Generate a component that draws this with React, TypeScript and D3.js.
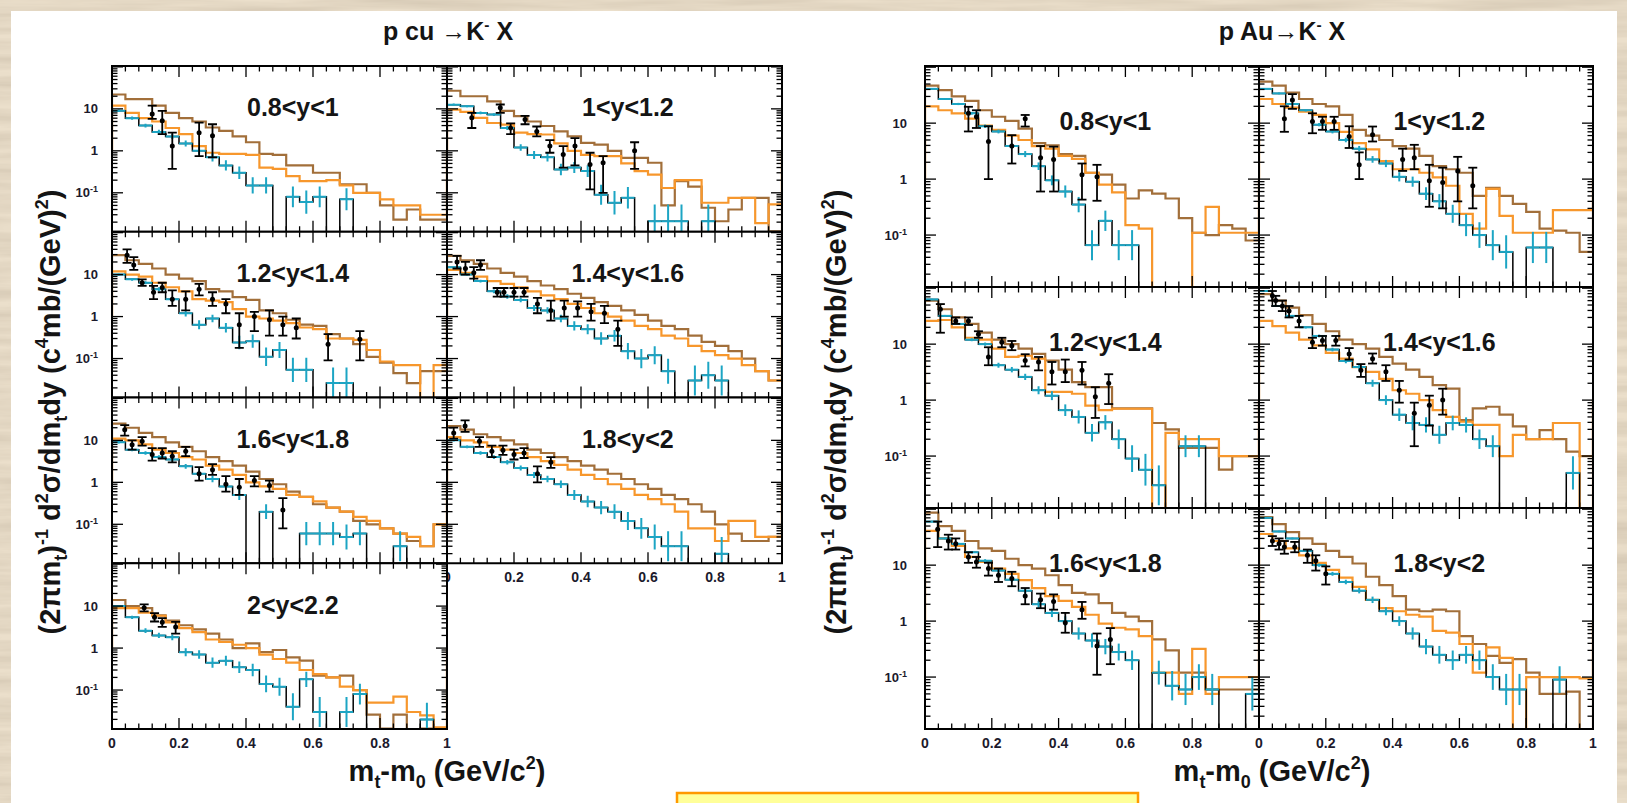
import { curveStepAfter, line, scaleLinear, scaleLog } from 'd3';

const width = 1627;
const height = 803;
const yDomain: [number, number] = [0.0118, 105];
const binWidth = 0.04;
const font = '"Liberation Sans", Arial, Helvetica, sans-serif';
const brownColor = '#a26f3a';
const orangeColor = '#f7972c';
const cyanColor = '#1ca5c4';

// ---- p Cu -> K- X ----
const cuLabels = ['0.8<y<1', '1<y<1.2', '1.2<y<1.4', '1.4<y<1.6', '1.6<y<1.8', '1.8<y<2', '2<y<2.2'];

const cu1Brown = [22, 17, 17, 12, 8, 6, 5, 3.6, 3, 2.2, 1.6, 0.85, 0.8, 0.45, 0.45, 0.3, 0.3, 0.16, 0.16, 0.1, 0.05, 0.023, 0.04, 0.023, 0.023];
const cu1Orange = [12, 8, 6, 5, 3.5, 2.5, 1.3, 0.9, 0.85, 0.85, 0.8, 0.4, 0.37, 0.25, 0.19, 0.19, 0.2, 0.15, 0.1, 0.1, 0.07, 0.05, 0.05, 0.03, 0.03];
const cu1Cyan = [9, 6, 4, 2.8, 2.2, 1.5, 1.0, 0.7, 0.45, 0.3, 0.15, 0.15, 0, 0.08, 0.06, 0.08, 0, 0.07, 0, 0, 0, 0, 0, 0, 0];
const cu1Pts = [[0.12, 7.5, 5.8, 12], [0.15, 5.2, 2.5, 9], [0.18, 1.3, 0.37, 2.7], [0.26, 2.7, 0.75, 4.7], [0.3, 2.3, 0.7, 4.3]];

const cu2Brown = [27, 20, 20, 15, 9, 6.7, 5, 3.9, 2.9, 2.2, 1.55, 1.4, 1.0, 0.68, 0.68, 0.52, 0.05, 0.19, 0.14, 0.044, 0.021, 0.04, 0.076, 0.076, 0.012];
const cu2Orange = [9.6, 8.5, 6.1, 4.6, 4.2, 2.7, 2.5, 2.45, 1.5, 1.0, 0.8, 0.75, 0.75, 0.5, 0.33, 0.27, 0.13, 0.2, 0.2, 0.058, 0.058, 0.076, 0.076, 0.019, 0.053];
const cu2Cyan = [12.6, 11.6, 8, 7.3, 3.5, 1.2, 0.8, 0.7, 0.36, 0.4, 0.33, 0.09, 0.058, 0.076, 0, 0.021, 0.021, 0.021, 0, 0.021, 0, 0, 0, 0, 0];
const cu2Pts = [[0.074, 6.1, 3.5, 8], [0.159, 10.6, 8, 12.7], [0.19, 3.5, 2.5, 4.5], [0.233, 5.6, 4.3, 6.8], [0.268, 2.9, 2.2, 3.8], [0.307, 1.3, 0.9, 1.8], [0.347, 0.82, 0.4, 1.3], [0.382, 1.3, 0.45, 2.0], [0.427, 0.47, 0.12, 0.9], [0.466, 0.52, 0.1, 0.75], [0.56, 1.0, 0.37, 1.6]];

const cu3Brown = [29, 22, 18, 14, 10, 8, 7, 4.5, 4, 2.9, 2.5, 1.4, 1.2, 0.84, 0.64, 0.6, 0.38, 0.3, 0.22, 0.11, 0.08, 0.045, 0.026, 0.05, 0.05];
const cu3Orange = [12, 10, 9, 6.4, 5, 4, 2.6, 2.4, 2.2, 1.5, 1.0, 0.9, 0.8, 0.7, 0.55, 0.5, 0.3, 0.3, 0.28, 0.16, 0.085, 0.07, 0.07, 0, 0.07];
const cu3Cyan = [10, 7.7, 6.4, 4.5, 2.6, 1.2, 0.64, 0.9, 0.54, 0.24, 0.26, 0.11, 0.16, 0.054, 0.054, 0, 0.026, 0.026, 0, 0, 0, 0, 0, 0, 0];
const cu3Pts = [[0.045, 29, 19, 40], [0.065, 17, 13, 26], [0.09, 6.4, 5.4, 7.7], [0.124, 3.8, 2.6, 5.4], [0.15, 4.9, 3.8, 6.4], [0.18, 2.6, 1.8, 4.2], [0.22, 2.6, 1.4, 4.0], [0.26, 4.5, 3.2, 6.0], [0.3, 2.6, 1.8, 3.8], [0.34, 2.0, 1.2, 2.6], [0.38, 0.64, 0.18, 1.2], [0.425, 1.0, 0.45, 1.3], [0.47, 0.84, 0.35, 1.4], [0.51, 0.64, 0.35, 1.0], [0.55, 0.54, 0.3, 0.9], [0.645, 0.22, 0.09, 0.38], [0.74, 0.29, 0.09, 0.45]];

const cu4Brown = [28, 22, 18, 14, 11, 9, 7, 5.5, 4.5, 3.5, 2.8, 2.2, 1.8, 1.4, 1.1, 0.8, 0.6, 0.5, 0.35, 0.25, 0.2, 0.15, 0.1, 0.05, 0.03];
const cu4Orange = [13, 11, 9, 7, 6, 5, 4, 3.2, 2.6, 2.0, 1.6, 1.2, 1.0, 0.8, 0.6, 0.5, 0.35, 0.3, 0.2, 0.15, 0.12, 0.1, 0.07, 0.05, 0.03];
const cu4Cyan = [15, 10, 7, 4, 3, 2.5, 1.6, 1.4, 0.9, 0.6, 0.5, 0.3, 0.35, 0.15, 0.1, 0.12, 0.05, 0, 0.03, 0.04, 0.03, 0, 0, 0, 0];
const cu4Pts = [[0.03, 20, 14, 28], [0.055, 14, 10, 20], [0.08, 11, 8, 15], [0.1, 17, 13, 22], [0.15, 3.8, 3.0, 4.8], [0.17, 3.8, 3.0, 4.8], [0.2, 3.8, 3.0, 4.8], [0.23, 3.8, 3.0, 4.8], [0.27, 2.0, 1.2, 2.8], [0.31, 1.4, 0.8, 2.4], [0.35, 1.6, 1.0, 2.4], [0.39, 1.6, 1.0, 2.3], [0.43, 1.3, 0.8, 2.0], [0.47, 1.2, 0.7, 1.8], [0.51, 0.5, 0.2, 0.8]];

const cu5Brown = [25, 20, 15, 12, 9, 7, 5.5, 4, 3.2, 2.5, 1.8, 1.2, 0.9, 0.6, 0.45, 0.3, 0.25, 0.2, 0.12, 0.1, 0.08, 0.06, 0.04, 0.03, 0.1];
const cu5Orange = [11, 10, 8, 6, 5, 4, 3.5, 2.5, 2.0, 1.5, 1.0, 0.8, 0.7, 0.5, 0.45, 0.35, 0.25, 0.2, 0.15, 0.12, 0.08, 0.06, 0.05, 0.03, 0.1];
const cu5Cyan = [9, 6, 5, 4, 3.5, 2.4, 1.6, 1.2, 0.8, 0.5, 0, 0.2, 0, 0, 0.06, 0.06, 0.06, 0.05, 0.06, 0, 0, 0.03, 0, 0, 0];
const cu5Pts = [[0.038, 17.8, 13, 23], [0.06, 7.9, 6, 10], [0.09, 9.5, 7.5, 12], [0.12, 4.6, 3.3, 6.5], [0.15, 5, 3.7, 6.5], [0.18, 4.2, 3, 5.5], [0.22, 5.5, 4.2, 7], [0.26, 1.6, 1.1, 2.3], [0.3, 2.0, 1.5, 2.7], [0.34, 0.9, 0.6, 1.4], [0.38, 0.76, 0.5, 1.2], [0.425, 1.1, 0.8, 1.4], [0.47, 0.84, 0.6, 1.1], [0.51, 0.22, 0.08, 0.42]];

const cu6Brown = [22, 18, 14, 12, 10, 8, 6, 5, 4, 3.2, 2.5, 2, 1.6, 1.2, 0.9, 0.7, 0.5, 0.4, 0.3, 0.2, 0.1, 0.06, 0.04, 0.04, 0.05];
const cu6Orange = [12, 10, 9, 7, 6, 5, 4, 3.2, 2.6, 2.0, 1.5, 1.2, 0.9, 0.7, 0.5, 0.4, 0.3, 0.2, 0.08, 0.08, 0.04, 0.12, 0.12, 0.05, 0.05];
const cu6Cyan = [10, 7, 5, 4, 3, 2.2, 1.5, 1.2, 0.9, 0.5, 0.35, 0.25, 0.2, 0.12, 0.08, 0.05, 0.03, 0.03, 0, 0, 0.02, 0, 0, 0, 0];
const cu6Pts = [[0.02, 15, 11, 20], [0.054, 22, 16, 30], [0.097, 9.5, 7, 12], [0.134, 5.5, 4, 7.5], [0.167, 5.8, 4.5, 7.5], [0.2, 4.6, 3.5, 6], [0.23, 5.0, 3.8, 6.5], [0.27, 1.6, 1.0, 2.4], [0.31, 3.0, 2.2, 4.0]];

const cu7Brown = [14, 10, 9, 6, 4.5, 3.5, 2.8, 2.2, 1.6, 1.0, 1.3, 0.8, 0.9, 0.6, 0.5, 0.22, 0.2, 0.22, 0.1, 0.026, 0.012, 0.026, 0, 0.012, 0.012];
const cu7Orange = [9, 9, 7, 5.9, 4.1, 3, 2.4, 1.6, 1.4, 1.2, 1.0, 0.7, 0.55, 0.45, 0.3, 0.24, 0.2, 0.12, 0.1, 0.05, 0.05, 0.07, 0.03, 0.025, 0.013];
const cu7Cyan = [10, 5.4, 2.6, 2.0, 1.8, 0.8, 0.7, 0.45, 0.5, 0.35, 0.3, 0.14, 0.12, 0.04, 0.18, 0.03, 0, 0.03, 0.08, 0, 0, 0, 0, 0.02, 0];
const cu7Pts = [[0.096, 9.1, 7.5, 11], [0.127, 5.4, 4.3, 6.8], [0.15, 4.1, 3.2, 5.2], [0.19, 3.2, 2.2, 4.2]];

// ---- p Au -> K- X ----
const auLabels = ['0.8<y<1', '1<y<1.2', '1.2<y<1.4', '1.4<y<1.6', '1.6<y<1.8', '1.8<y<2'];

const au1Brown = [47, 39, 30, 25, 17, 13, 11, 8, 4.4, 4.0, 2.8, 2.6, 1.3, 1.2, 0.8, 0.45, 0.63, 0.55, 0.45, 0.2, 0.11, 0.1, 0.15, 0.13, 0.08];
const au1Orange = [20, 17, 15, 12, 9, 7.6, 6, 5, 3.9, 3.5, 2.6, 2.3, 1.3, 0.8, 0.58, 0.15, 0.13, 0, 0, 0, 0.11, 0.32, 0.11, 0.11, 0.11];
const au1Cyan = [41, 27, 22, 15, 8.8, 7.1, 3.9, 2.8, 1.7, 0.95, 0.6, 0.35, 0.066, 0.18, 0.066, 0.066, 0, 0, 0, 0, 0, 0, 0, 0, 0];
const au1Pts = [[0.13, 15, 7.1, 19.6], [0.154, 13, 8.2, 17], [0.19, 4.7, 1.0, 8.8], [0.26, 3.9, 1.9, 6.1], [0.3, 12, 8.7, 14], [0.346, 2.4, 0.6, 3.9], [0.385, 2.25, 0.6, 3.8], [0.47, 1.2, 0.43, 1.9], [0.515, 1.1, 0.41, 1.8]];

const au2Brown = [55, 47, 35, 27, 22, 20, 14, 7.6, 6, 5, 3.9, 3.5, 2.6, 1.7, 1.5, 1.3, 0.5, 0.7, 0.5, 0.36, 0.26, 0.13, 0.12, 0.11, 0.05];
const au2Orange = [27, 22, 19, 16, 14, 10, 7, 4.4, 3.4, 2.1, 1.5, 1.5, 1.3, 1.07, 0.76, 0.24, 0.13, 0.67, 0.22, 0.11, 0.11, 0.11, 0.28, 0.28, 0.28];
const au2Cyan = [41, 34, 22, 17, 9.4, 7.1, 5, 3.5, 2.25, 1.9, 1.1, 0.9, 0.55, 0.4, 0.24, 0.15, 0.1, 0.066, 0.05, 0, 0.06, 0.06, 0, 0, 0];
const au2Pts = [[0.076, 12, 7, 20], [0.1, 26, 18, 33], [0.16, 10.7, 6.6, 15], [0.19, 10.7, 7.6, 13], [0.225, 10.7, 7.6, 13], [0.27, 5.8, 3.6, 8.8], [0.3, 1.8, 1.0, 3.0], [0.34, 6.2, 4.7, 8.7], [0.43, 2.25, 1.4, 3.5], [0.465, 2.4, 1.5, 4.1], [0.51, 0.93, 0.32, 1.8], [0.55, 0.87, 0.3, 1.6], [0.595, 1.4, 0.4, 2.5], [0.64, 0.76, 0.3, 1.6]];

const au3Brown = [60, 42, 30, 23, 16, 12, 10, 8.3, 6.7, 5.1, 3.5, 2.1, 1.7, 1.7, 0.71, 0.71, 0.71, 0.39, 0.3, 0.14, 0.14, 0.14, 0.057, 0.1, 0.1];
const au3Orange = [26, 27, 20, 13, 12, 8.3, 5.9, 6.2, 5.5, 1.4, 1.4, 1.3, 0.8, 0.66, 0.7, 0.7, 0.7, 0, 0.26, 0.2, 0.2, 0.2, 0.1, 0.1, 0.1];
const au3Cyan = [63, 32, 23, 12, 10, 4.2, 3.5, 2.6, 1.5, 1.2, 0.66, 0.5, 0.26, 0.4, 0.2, 0.09, 0.057, 0.03, 0, 0.15, 0.15, 0, 0, 0, 0];
const au3Pts = [[0.046, 42, 16, 52], [0.092, 26, 23, 30], [0.13, 26, 22, 30], [0.16, 15, 13, 17], [0.19, 5.9, 4.2, 8.8], [0.23, 10.8, 8.8, 13], [0.26, 9.4, 7.8, 11.4], [0.3, 5.1, 4.0, 6.6], [0.34, 4.8, 3.4, 5.9], [0.38, 3.2, 1.9, 4.8], [0.42, 3.2, 2.1, 5.3], [0.47, 3.4, 1.9, 4.8], [0.51, 1.15, 0.48, 1.7], [0.55, 2.0, 0.85, 2.9]];

const au4Brown = [78, 60, 45, 33, 23, 17, 12, 10, 8.3, 5.9, 4.5, 3.5, 2.6, 1.85, 1.6, 0.44, 0.71, 0.76, 0.55, 0.34, 0.2, 0.29, 0.2, 0.12, 0.1];
const au4Orange = [26, 21, 16, 12, 9.5, 7, 5.5, 3.9, 3.2, 2.4, 1.5, 1.3, 1.0, 0.66, 0.5, 0.41, 0.36, 0.36, 0.1, 0.24, 0.2, 0.2, 0.39, 0.39, 0];
const au4Cyan = [89, 48, 32, 20, 14, 8, 5, 3.9, 2.0, 1.0, 0.55, 0.39, 0.36, 0.24, 0.39, 0.36, 0.2, 0.15, 0, 0, 0, 0, 0, 0.05, 0];
const au4Pts = [[0.04, 73, 60, 89], [0.05, 60, 48, 73], [0.07, 48, 39, 60], [0.09, 39, 30, 48], [0.12, 26, 20, 32], [0.16, 10.8, 8.5, 13], [0.19, 11.6, 9.4, 14], [0.23, 11.6, 9.4, 14], [0.27, 6.7, 5.3, 8.5], [0.305, 3.4, 2.6, 4.4], [0.34, 5.5, 4.5, 6.8], [0.38, 3.2, 2.2, 4.2], [0.42, 1.5, 0.9, 2.2], [0.465, 0.58, 0.15, 0.9], [0.51, 0.81, 0.35, 1.2], [0.55, 1.0, 0.55, 1.6]];

const au5Brown = [87, 50, 41, 27, 20, 18, 13, 10, 8.7, 6.6, 4.4, 3.2, 3.0, 2.1, 1.4, 1.2, 1.0, 0.47, 0.3, 0.12, 0.12, 0.06, 0.06, 0.06, 0.06];
const au5Orange = [41, 30, 22, 14, 11.4, 8.7, 7, 5.4, 3.9, 2.8, 2.3, 1.8, 1.3, 0.9, 0.76, 0.71, 0.54, 0.12, 0.12, 0.05, 0.32, 0.05, 0.1, 0.1, 0.1];
const au5Cyan = [60, 30, 24, 17, 12, 8, 5.5, 3.5, 2.0, 1.4, 1.0, 0.6, 0.45, 0.35, 0.28, 0.2, 0, 0.12, 0.07, 0.06, 0.1, 0.06, 0, 0, 0.05];
const au5Pts = [[0.038, 44, 21, 60], [0.07, 27, 19, 35], [0.092, 24, 19, 30], [0.13, 14, 11, 17], [0.154, 11.4, 9, 14], [0.19, 8.7, 6.5, 11], [0.22, 6.6, 5, 8.7], [0.26, 5.8, 4.2, 7.6], [0.3, 2.8, 2.0, 3.9], [0.346, 2.4, 1.7, 3.1], [0.385, 2.25, 1.6, 3.0], [0.42, 0.93, 0.62, 1.4], [0.47, 1.6, 1.1, 2.2], [0.515, 0.36, 0.11, 0.6], [0.555, 0.47, 0.17, 0.75]];

const au6Brown = [72, 54, 39, 30, 24, 18, 14, 10.7, 6.2, 4.4, 2.8, 1.6, 1.5, 1.6, 1.5, 0.54, 0.39, 0.24, 0.18, 0.21, 0.12, 0.05, 0.05, 0.055, 0.01];
const au6Orange = [36, 27, 20, 15, 11, 8.2, 6, 4.1, 2.4, 1.7, 1.5, 1.3, 1.2, 0.67, 0.62, 0.39, 0.12, 0.34, 0.22, 0, 0.1, 0.1, 0.1, 0.1, 0.095];
const au6Cyan = [70, 40, 30, 18, 10, 7, 5, 3.5, 2.4, 1.5, 1.0, 0.6, 0.35, 0.25, 0.2, 0.25, 0.2, 0.1, 0.06, 0.06, 0, 0, 0.09, 0, 0];
const au6Pts = [[0.04, 27, 22, 33], [0.06, 24, 19, 30], [0.076, 21, 16, 27], [0.107, 21, 17, 26], [0.145, 15, 11, 19], [0.17, 12, 8, 15], [0.2, 7, 4.5, 9.5]];

const xTickLabels = [0, 0.2, 0.4, 0.6, 0.8, 1];
const yTickLabels = [10, 1, 0.1];

type Seg = [string, string];

const Rich = ({ segs, size }: { segs: Seg[]; size: number }) => {
  let cur = 0;
  return (
    <>
      {segs.map(([t, k], i) => {
        const target = k === 'sup' ? -0.42 * size : k === 'sub' ? 0.25 * size : 0;
        const dy = target - cur;
        cur = target;
        return (
          <tspan key={i} dy={dy} fontSize={k ? size * 0.62 : size}>
            {t}
          </tspan>
        );
      })}
    </>
  );
};

interface PanelProps {
  id: string;
  px: number;
  py: number;
  pw: number;
  ph: number;
  label: string;
  brown: number[];
  orange: number[];
  cyan: number[];
  pts: number[][];
  showY: boolean;
  xLabels: number[];
  yLabelGap: number;
}

const Panel = ({ id, px, py, pw, ph, label, brown, orange, cyan, pts, showY, xLabels, yLabelGap }: PanelProps) => {
  const x = scaleLinear().domain([0, 1]).range([px, px + pw]);
  const y = scaleLog().domain(yDomain).range([py + ph, py]);
  const yv = (v: number) => y(Math.max(v, 1e-4));

  const step = (vals: number[]) => {
    const p: [number, number][] = [[0, 1], ...vals.map((v, i) => [i * binWidth, v] as [number, number]), [1, vals[vals.length - 1]], [1, 1]];
    return (
      line<[number, number]>()
        .x(d => x(d[0]))
        .y(d => yv(d[1]))
        .curve(curveStepAfter)(p) || ''
    );
  };

  const xTicks = Array.from({ length: 26 }, (_, i) => i);
  const yTicks: { v: number; major: boolean }[] = [];
  for (let d = -2; d <= 2; d++) {
    for (let m = 1; m <= 9; m++) {
      const v = m * Math.pow(10, d);
      if (v >= yDomain[0] && v <= yDomain[1]) yTicks.push({ v, major: m === 1 });
    }
  }

  return (
    <g>
      <clipPath id={`clip-${id}`}>
        <rect x={px} y={py} width={pw} height={ph} />
      </clipPath>
      <rect x={px} y={py} width={pw} height={ph} fill="white" />
      <g clipPath={`url(#clip-${id})`} fill="none">
        <path d={step(brown)} stroke={brownColor} strokeWidth={2.2} />
        <path d={step(orange)} stroke={orangeColor} strokeWidth={2.2} />
        <path d={step(cyan)} stroke="black" strokeWidth={1.5} />
        {cyan.map((v, i) => {
          if (v <= 0) return null;
          const k = Math.min(1.5, 0.22 / Math.sqrt(v));
          const cx = x((i + 0.5) * binWidth);
          return (
            <g key={i} stroke={cyanColor} strokeWidth={2}>
              <line x1={x(i * binWidth)} x2={x((i + 1) * binWidth)} y1={yv(v)} y2={yv(v)} />
              <line x1={cx} x2={cx} y1={yv(v / (1 + k))} y2={yv(v * (1 + k))} />
            </g>
          );
        })}
        {pts.map((p, i) => (
          <g key={i} stroke="black" strokeWidth={1.8}>
            <line x1={x(p[0])} x2={x(p[0])} y1={y(p[2])} y2={y(p[3])} />
            <line x1={x(p[0]) - 4.5} x2={x(p[0]) + 4.5} y1={y(p[2])} y2={y(p[2])} />
            <line x1={x(p[0]) - 4.5} x2={x(p[0]) + 4.5} y1={y(p[3])} y2={y(p[3])} />
            <circle cx={x(p[0])} cy={y(p[1])} r={2.5} fill="black" stroke="none" />
          </g>
        ))}
      </g>
      <g stroke="black" strokeWidth={1.3}>
        {xTicks.map(i => {
          const len = i % 5 === 0 ? 11 : 5.5;
          const tx = x(i * binWidth);
          return (
            <g key={`x${i}`}>
              <line x1={tx} x2={tx} y1={py + ph} y2={py + ph - len} />
              <line x1={tx} x2={tx} y1={py} y2={py + len} />
            </g>
          );
        })}
        {yTicks.map(t => {
          const len = t.major ? 11 : 5.5;
          const ty = y(t.v);
          return (
            <g key={`y${t.v}`}>
              <line x1={px} x2={px + len} y1={ty} y2={ty} />
              <line x1={px + pw} x2={px + pw - len} y1={ty} y2={ty} />
            </g>
          );
        })}
      </g>
      <rect x={px} y={py} width={pw} height={ph} fill="none" stroke="black" strokeWidth={2} />
      <text
        x={px + pw * 0.54}
        y={py + ph * 0.25}
        dy="0.36em"
        textAnchor="middle"
        fontFamily={font}
        fontWeight="bold"
        fontSize={25}
        fill="#151515"
      >
        {label}
      </text>
      {showY &&
        yTickLabels.map(v => (
          <text
            key={v}
            x={px - yLabelGap}
            y={y(v)}
            dy="0.35em"
            textAnchor="end"
            fontFamily={font}
            fontWeight="bold"
            fontSize={13}
            fill="#1c1a2c"
          >
            {v === 0.1 ? (
              <>
                10<tspan dy={-5} fontSize={9}>-1</tspan>
              </>
            ) : (
              String(v)
            )}
          </text>
        ))}
      {xLabels.map(v => (
        <text
          key={v}
          x={x(v)}
          y={py + ph + 19}
          textAnchor="middle"
          fontFamily={font}
          fontWeight="bold"
          fontSize={14}
          fill="#1c1a2c"
        >
          {String(v)}
        </text>
      ))}
    </g>
  );
};

const cuSeries = [
  [cu1Brown, cu1Orange, cu1Cyan, cu1Pts],
  [cu2Brown, cu2Orange, cu2Cyan, cu2Pts],
  [cu3Brown, cu3Orange, cu3Cyan, cu3Pts],
  [cu4Brown, cu4Orange, cu4Cyan, cu4Pts],
  [cu5Brown, cu5Orange, cu5Cyan, cu5Pts],
  [cu6Brown, cu6Orange, cu6Cyan, cu6Pts],
  [cu7Brown, cu7Orange, cu7Cyan, cu7Pts],
];
const auSeries = [
  [au1Brown, au1Orange, au1Cyan, au1Pts],
  [au2Brown, au2Orange, au2Cyan, au2Pts],
  [au3Brown, au3Orange, au3Cyan, au3Pts],
  [au4Brown, au4Orange, au4Cyan, au4Pts],
  [au5Brown, au5Orange, au5Cyan, au5Pts],
  [au6Brown, au6Orange, au6Cyan, au6Pts],
];

const plotTop = 66;
const plotBottom = 729;
const cuLeft = 112;
const auLeft = 925;
const colW = 335;

const yTitle: Seg[] = [
  ['(2πm', ''], ['t', 'sub'], [')', ''], ['-1', 'sup'], [' d', ''], ['2', 'sup'], ['σ/dm', ''], ['t', 'sub'],
  ['dy (c', ''], ['4', 'sup'], ['mb/(GeV)', ''], ['2', 'sup'], [')', ''],
];
const xTitle: Seg[] = [['m', ''], ['t', 'sub'], ['-m', ''], ['0', 'sub'], [' (GeV/c', ''], ['2', 'sup'], [')', '']];

const App = () => {
  const cuRowH = (plotBottom - plotTop) / 4;
  const auRowH = (plotBottom - plotTop) / 3;
  return (
    <svg width={width} height={height} style={{ position: 'absolute', left: 0, top: 0 }}>
      <defs>
        <filter id="paper" x="0" y="0" width="100%" height="100%">
          <feTurbulence type="fractalNoise" baseFrequency="0.006 0.09" numOctaves={4} seed={5} />
          <feColorMatrix type="matrix" values="0 0 0 0 0.55  0 0 0 0 0.47  0 0 0 0 0.36  0 0 0 0.9 -0.25" />
        </filter>
      </defs>
      <rect width={width} height={height} fill="#ebdfcb" />
      <rect width={width} height={height} filter="url(#paper)" />
      <rect x={11} y={11} width={1606} height={792} fill="white" />

      {cuSeries.map((s, i) => {
        const row = Math.floor(i / 2);
        const col = i % 2;
        const xl = i === 6 || i === 5 ? xTickLabels : [];
        return (
          <Panel
            key={`cu${i}`}
            id={`cu${i}`}
            px={cuLeft + col * colW}
            py={plotTop + row * cuRowH}
            pw={colW}
            ph={cuRowH}
            label={cuLabels[i]}
            brown={s[0] as number[]}
            orange={s[1] as number[]}
            cyan={s[2] as number[]}
            pts={s[3] as number[][]}
            showY={col === 0}
            xLabels={xl}
            yLabelGap={14}
          />
        );
      })}
      {auSeries.map((s, i) => {
        const row = Math.floor(i / 2);
        const col = i % 2;
        const xl = i === 4 ? xTickLabels.slice(0, 5) : i === 5 ? xTickLabels : [];
        return (
          <Panel
            key={`au${i}`}
            id={`au${i}`}
            px={auLeft + col * 334}
            py={plotTop + row * auRowH}
            pw={334}
            ph={auRowH}
            label={auLabels[i]}
            brown={s[0] as number[]}
            orange={s[1] as number[]}
            cyan={s[2] as number[]}
            pts={s[3] as number[][]}
            showY={col === 0}
            xLabels={xl}
            yLabelGap={18}
          />
        );
      })}

      <g fontFamily={font} fill="#141414" fontWeight="bold">
        <text x={448} y={40} textAnchor="middle" fontSize={25}>
          <Rich segs={[['p cu →K', ''], ['-', 'sup'], [' X', '']]} size={25} />
        </text>
        <text x={1282} y={40} textAnchor="middle" fontSize={25}>
          <Rich segs={[['p Au→K', ''], ['-', 'sup'], [' X', '']]} size={25} />
        </text>
        <text transform="translate(60,412) rotate(-90)" textAnchor="middle" fontSize={29}>
          <Rich segs={yTitle} size={29} />
        </text>
        <text transform="translate(846,412) rotate(-90)" textAnchor="middle" fontSize={29}>
          <Rich segs={yTitle} size={29} />
        </text>
        <text x={447} y={781} textAnchor="middle" fontSize={29}>
          <Rich segs={xTitle} size={29} />
        </text>
        <text x={1272} y={781} textAnchor="middle" fontSize={29}>
          <Rich segs={xTitle} size={29} />
        </text>
      </g>

      <rect x={677} y={793} width={461} height={20} fill="#ffff99" stroke="#ff9900" strokeWidth={2.5} />
    </svg>
  );
};

export default App;
